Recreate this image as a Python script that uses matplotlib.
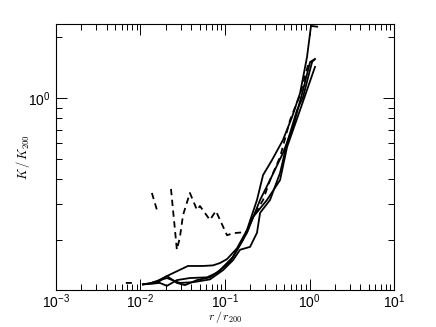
import numpy as np
import matplotlib
matplotlib.use('Agg')
import matplotlib.pyplot as plt
from matplotlib.ticker import NullFormatter, LogLocator

plt.rcParams['font.family'] = 'Liberation Sans'
plt.rcParams['mathtext.fontset'] = 'custom'
plt.rcParams['mathtext.rm'] = 'Liberation Sans'
plt.rcParams['mathtext.it'] = 'Liberation Sans:italic'

# entropy profiles, K/K200 vs r/r200
r_a = [0.0107, 0.0149, 0.0206, 0.0365, 0.0550, 0.0721, 0.0872, 0.1057, 0.1387,
       0.182, 0.239, 0.282, 0.360, 0.485, 0.621, 0.772, 0.933, 1.04, 1.23]
k_a = [0.120, 0.123, 0.132, 0.148, 0.148, 0.149, 0.153, 0.160, 0.181,
       0.223, 0.314, 0.417, 0.495, 0.622, 0.808, 1.06, 1.60, 2.28, 2.26]

r_b = [0.0107, 0.0157, 0.0206, 0.0270, 0.0336, 0.0466, 0.0664, 0.0872, 0.1243,
       0.182, 0.260, 0.341, 0.485, 0.638, 0.838, 1.014, 1.16]
k_b = [0.120, 0.122, 0.132, 0.122, 0.119, 0.126, 0.130, 0.141, 0.164,
       0.216, 0.314, 0.394, 0.536, 0.721, 1.10, 1.51, 1.565]

r_c = [0.0107, 0.0170, 0.0206, 0.0270, 0.0385, 0.0612, 0.0804, 0.1146, 0.163,
       0.214, 0.314, 0.448, 0.542, 0.772, 1.16]
k_c = [0.120, 0.122, 0.118, 0.126, 0.129, 0.130, 0.137, 0.155, 0.199,
       0.258, 0.314, 0.394, 0.574, 0.875, 1.43]

r_d = [0.0141, 0.0206, 0.0293, 0.0418, 0.0664, 0.0946, 0.1243, 0.1506, 0.198,
       0.239, 0.260, 0.341, 0.448, 0.542, 0.711, 0.838, 1.07]
k_d = [0.123, 0.129, 0.122, 0.123, 0.127, 0.141, 0.158, 0.178, 0.184,
       0.216, 0.271, 0.314, 0.427, 0.601, 0.875, 1.015, 1.51]

# dashed profile, gaps where undefined
r_dash = [0.00673, 0.00793, np.nan, 0.01367, 0.0161, np.nan, 0.0230, 0.0270, 0.0293,
          0.0319, 0.0385, 0.0467, 0.0506, 0.0664, 0.0781, 0.1057, 0.1245, 0.182,
          0.214, 0.282, 0.341, 0.448, 0.588, 0.772, 0.96, 1.16]
k_dash = [0.122, 0.122, np.nan, 0.340, 0.270, np.nan, 0.356, 0.178, 0.205,
          0.264, 0.340, 0.280, 0.293, 0.250, 0.277, 0.210, 0.215, 0.218,
          0.258, 0.314, 0.394, 0.512, 0.78, 1.04, 1.46, 1.56]

fig = plt.figure(figsize=(4.36, 3.27), dpi=100)
ax = fig.add_axes([0.128, 0.113, 0.776, 0.813])

for r, k in [(r_a, k_a), (r_b, k_b), (r_c, k_c), (r_d, k_d)]:
    ax.plot(r, k, color='k', lw=1.3)
ax.plot(r_dash, k_dash, color='k', lw=1.3, linestyle=(0, (3.5, 2.5)))

ax.set_xscale('log')
ax.set_yscale('log')
ax.set_xlim(1e-3, 10)
ax.set_ylim(0.1125, 2.325)

ax.xaxis.set_minor_formatter(NullFormatter())
ax.yaxis.set_minor_formatter(NullFormatter())
ax.xaxis.set_major_locator(LogLocator(base=10, numticks=10))

ax.tick_params(which='both', direction='in', top=True, right=True, labelsize=10, width=0.7)
ax.tick_params(which='major', length=8)
ax.tick_params(which='minor', length=4)
ax.tick_params(axis='x', which='both', pad=2)
for s in ax.spines.values():
    s.set_linewidth(0.8)

ax.set_xlabel(r'$r\,/\,r_{200}$', fontsize=8.5, math_fontfamily='cm', va='center')
ax.set_ylabel(r'$K\,/\,K_{200}$', fontsize=9, math_fontfamily='cm')
ax.xaxis.set_label_coords(0.5, -0.1)
ax.yaxis.set_label_coords(-0.07, 0.5)

fig.savefig('out.png', dpi=100)
